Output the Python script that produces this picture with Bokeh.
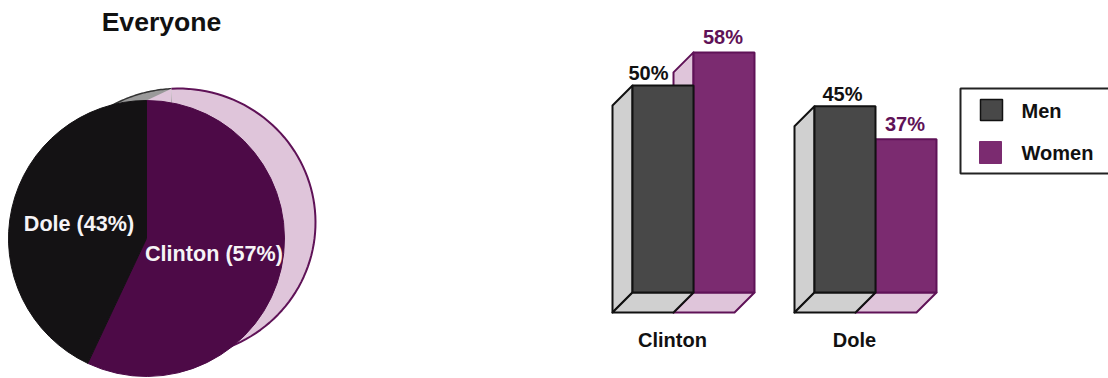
from math import pi

import numpy as np
from bokeh.core.properties import value
from bokeh.embed import file_html
from bokeh.layouts import row
from bokeh.plotting import figure
from bokeh.resources import INLINE

# Vote shares
pie_names = ["Clinton", "Dole"]
pie_shares = [57, 43]
groups = ["Clinton", "Dole"]
men = [50, 45]
women = [58, 37]

FONT = value("Liberation Sans")
DARK_PURPLE = "#4d0a47"
MID_PURPLE = "#7b2b70"
LINE_PURPLE = "#5f1257"
PINK = "#dfc5da"
GREY_FACE = "#484848"
GREY_SIDE = "#d0d0d0"
NEAR_BLACK = "#141214"


def label(fig, x, y, text, size, color="#111111", align="center"):
    fig.text([x], [y], text=[text], text_font=FONT, text_font_style="bold",
             text_font_size=size, text_color=color, text_align=align,
             text_baseline="middle")


def bare(fig):
    fig.axis.visible = False
    fig.grid.visible = False
    fig.outline_line_color = None
    fig.min_border = 0
    return fig


# ---- Pie with an extruded rim ----
pie = bare(figure(width=340, height=378, x_range=(0, 340), y_range=(0, 378),
                  output_backend="svg", toolbar_location=None))
FX, FY, FR = 146, 140, 138
RX, RY, RA, RB = 178, 156, 137, 134


def rim_arc(start_deg, end_deg):
    t = np.radians(np.linspace(start_deg, end_deg, 120))
    return RX + RA * np.cos(t), RY + RB * np.sin(t)


clinton_end = pi / 2 - 2 * pi * pie_shares[0] / sum(pie_shares)

# The rim's seam between the two colours runs from the front top to just left of the rear top
SEAM = 93
gx, gy = rim_arc(SEAM, 180)
px, py = rim_arc(SEAM, SEAM - 290)
pie.patch(list(gx) + [RX], list(gy) + [RY], fill_color="#9a9a9a", line_color=None)
pie.line(gx, gy, line_color="#333333", line_width=1.5)
pie.patch(list(px) + [RX], list(py) + [RY], fill_color=PINK, line_color=None)
pie.line(px, py, line_color=LINE_PURPLE, line_width=2)
pie.patch([FX, px[0], px[0], FX], [FY + FR, py[0], RY, FY], fill_color=PINK, line_color=None)

pie.wedge([FX], [FY], radius=FR, start_angle=clinton_end, end_angle=pi / 2,
          fill_color=DARK_PURPLE, line_color=DARK_PURPLE, line_width=1)
pie.wedge([FX], [FY], radius=FR, start_angle=pi / 2, end_angle=clinton_end,
          fill_color=NEAR_BLACK, line_color=NEAR_BLACK, line_width=1)

label(pie, 161, 357, "Everyone", "26.6px")
label(pie, 78.5, 155, f"{pie_names[1]} ({pie_shares[1]}%)", "21.6px", "#f6f4f6")
label(pie, 213.5, 125, f"{pie_names[0]} ({pie_shares[0]}%)", "21.6px", "#f6f4f6")

# ---- Pseudo-3D bars: y is in percent, x in layout units ----
PX_PER_PCT = 4.14
BASE_PX = 292
bars = bare(figure(width=768, height=378, x_range=(340, 1108),
                   y_range=(-(378 - BASE_PX) / PX_PER_PCT, BASE_PX / PX_PER_PCT),
                   output_backend="svg", toolbar_location=None))
DX = 20
DY = 20 / PX_PER_PCT
W = 61
group_left = [632, 814]


def column(x0, v, face, side, edge):
    # left wall, floor and back face of one column
    bars.patch([x0 - DX, x0 - DX, x0, x0], [-DY, v - DY, v, 0],
               fill_color=side, line_color=edge, line_width=2, line_join="round")
    bars.patch([x0 - DX, x0, x0 + W, x0 + W - DX], [-DY, 0, 0, -DY],
               fill_color=side, line_color=edge, line_width=2, line_join="round")
    bars.quad(left=[x0], right=[x0 + W], bottom=[0], top=[v],
              fill_color=face, line_color=edge, line_width=2)


for i, name in enumerate(groups):
    x0 = group_left[i]
    column(x0 + W, women[i], MID_PURPLE, PINK, LINE_PURPLE)
    column(x0, men[i], GREY_FACE, GREY_SIDE, "#111111")
    label(bars, x0 + 16 if i == 0 else x0 + 28, men[i] + 2.9, f"{men[i]}%", "20px")
    label(bars, x0 + W + 29.5, women[i] + 3.6, f"{women[i]}%", "20px", LINE_PURPLE)
    label(bars, x0 + 40, -11.4, name, "20px")

# Legend box, running to the right edge of the page
box_y = lambda px: (BASE_PX - px) / PX_PER_PCT
bars.quad(left=[960], right=[1112], bottom=[box_y(173)], top=[box_y(88)],
          fill_color="white", line_color="#222222", line_width=2)
bars.quad(left=[980], right=[1002], bottom=[box_y(120)], top=[box_y(99)],
          fill_color=GREY_FACE, line_color="#111111", line_width=1.5)
bars.quad(left=[979], right=[1001], bottom=[box_y(163)], top=[box_y(141)],
          fill_color=MID_PURPLE, line_color=MID_PURPLE, line_width=1)
label(bars, 1021, box_y(110), "Men", "20px", align="left")
label(bars, 1021, box_y(152), "Women", "20px", align="left")

page = row(pie, bars, spacing=0)
page.margin = 0
open("out.html", "w").write(file_html(page, INLINE))
